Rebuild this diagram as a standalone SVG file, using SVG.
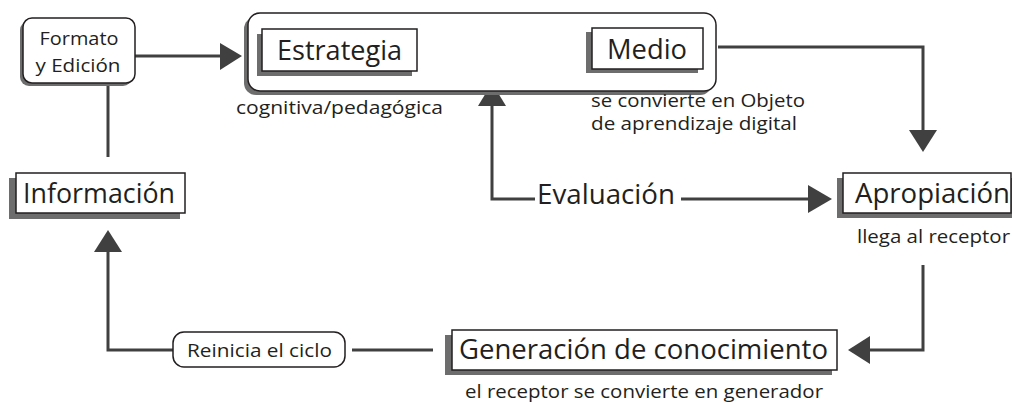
<svg xmlns="http://www.w3.org/2000/svg" width="1012" height="404" viewBox="0 0 1012 404">
<style>
text{font-family:"Open Sans","Noto Sans","Liberation Sans",sans-serif;fill:#231f20}
.big{font-size:27px}
.mid{font-size:19px}
.sm{font-size:18.5px}
.box{fill:#fff;stroke:#231f20;stroke-width:1.5}
.shadow{fill:#6d6d6d}
.ln{fill:none;stroke:#404040;stroke-width:3}
.hd{fill:#404040}
</style>
<rect width="1012" height="404" fill="#fff"/>
<g id="connectors">
<line class="ln" x1="135" y1="56" x2="222" y2="56"/>
<polygon class="hd" points="220,43 242,56 220,70"/>
<line class="ln" x1="108" y1="83" x2="108" y2="157"/>
<polyline class="ln" points="173,350 108,350 108,250"/>
<polygon class="hd" points="94,252 108,230 122,252"/>
<line class="ln" x1="352" y1="350" x2="433" y2="350"/>
<line class="ln" x1="429" y1="56" x2="550" y2="56"/>
<polyline class="ln" points="718,47 923,47 923,132"/>
<polygon class="hd" points="909,130 923,152 937,130"/>
<polyline class="ln" points="492,104 492,199 535,199"/>
<polygon class="hd" points="478,106 492,83 506,106"/>
<line class="ln" x1="681" y1="199" x2="810" y2="199"/>
<polygon class="hd" points="808,185 832,199 808,213"/>
<polyline class="ln" points="923,265 923,350 868,350"/>
<polygon class="hd" points="870,336 848,350 870,364"/>
</g>
<g id="formato">
<rect class="shadow" x="20" y="21" width="112" height="65" rx="9"/>
<rect class="box" x="23" y="18" width="112" height="65" rx="9"/>
<text class="mid" x="79" y="45" text-anchor="middle" textLength="79" lengthAdjust="spacingAndGlyphs">Formato</text>
<text class="mid" x="78" y="72" text-anchor="middle" textLength="85" lengthAdjust="spacingAndGlyphs">y Edición</text>
</g>
<g id="contenedor">
<rect class="shadow" x="244" y="17" width="468" height="78" rx="12"/>
<rect class="box" x="248" y="13" width="468" height="78" rx="12" stroke-width="2"/>
</g>
<g id="estrategia">
<rect class="shadow" x="257" y="34" width="155" height="42"/>
<rect class="box" x="262" y="29" width="155" height="42"/>
<text class="big" x="277" y="60" textLength="125" lengthAdjust="spacingAndGlyphs">Estrategia</text>
<text class="sm" x="236" y="114" textLength="207" lengthAdjust="spacingAndGlyphs">cognitiva/pedagógica</text>
</g>
<g id="medio">
<rect class="shadow" x="586" y="32" width="112" height="41"/>
<rect class="box" x="592" y="28" width="111" height="41"/>
<text class="big" x="607" y="59" textLength="80" lengthAdjust="spacingAndGlyphs">Medio</text>
<text class="sm" x="591" y="107" textLength="214" lengthAdjust="spacingAndGlyphs">se convierte en Objeto</text>
<text class="sm" x="591" y="130" textLength="206" lengthAdjust="spacingAndGlyphs">de aprendizaje digital</text>
</g>
<g id="informacion">
<rect class="shadow" x="9" y="178" width="171" height="41"/>
<rect class="box" x="16" y="173" width="169" height="40"/>
<text class="big" x="23" y="203" textLength="152" lengthAdjust="spacingAndGlyphs">Información</text>
</g>
<g id="evaluacion">
<text class="big" x="537" y="204" textLength="138" lengthAdjust="spacingAndGlyphs">Evaluación</text>
</g>
<g id="apropiacion">
<rect class="shadow" x="837" y="178" width="175" height="40"/>
<rect class="box" x="843" y="173" width="168" height="40"/>
<text class="big" x="855" y="203" textLength="155" lengthAdjust="spacingAndGlyphs">Apropiación</text>
<text class="sm" x="857" y="243" textLength="153" lengthAdjust="spacingAndGlyphs">llega al receptor</text>
</g>
<g id="reinicia">
<rect class="box" x="173" y="332" width="172" height="35" rx="11"/>
<text class="mid" x="187" y="357" textLength="145" lengthAdjust="spacingAndGlyphs">Reinicia el ciclo</text>
</g>
<g id="generacion">
<rect class="shadow" x="445" y="335" width="387" height="40"/>
<rect class="box" x="452" y="330" width="385" height="40"/>
<text class="big" x="459" y="359" textLength="369" lengthAdjust="spacingAndGlyphs">Generación de conocimiento</text>
<text class="sm" x="465" y="398" textLength="358" lengthAdjust="spacingAndGlyphs">el receptor se convierte en generador</text>
</g>
</svg>
